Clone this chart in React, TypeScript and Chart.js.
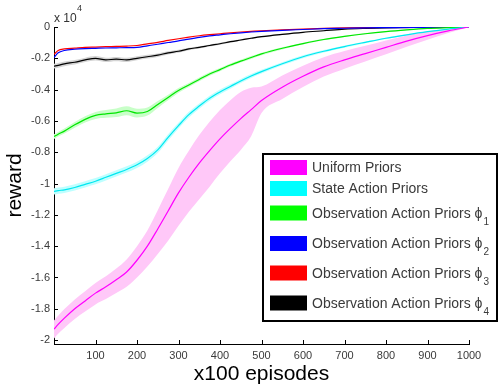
import React, { useEffect, useRef } from "react";
import { Chart, registerables } from "chart.js";

Chart.register(...registerables);

// ---------- data (reward in units of 1e4) ----------
const episodes = [0, 10, 25, 50, 75, 100, 125, 150, 175, 200, 225, 250, 275, 300, 325, 350, 375, 400, 425, 450, 475, 500, 550, 600, 650, 700, 750, 800, 850, 900, 950, 1000];

const uniformPriors = [-1.93, -1.9, -1.86, -1.8, -1.75, -1.7, -1.66, -1.615, -1.565, -1.49, -1.4, -1.29, -1.175, -1.06, -0.96, -0.87, -0.79, -0.715, -0.648, -0.585, -0.528, -0.47, -0.385, -0.315, -0.255, -0.21, -0.17, -0.13, -0.09, -0.055, -0.025, 0];
const uniformUp = [0.055, 0.055, 0.058, 0.06, 0.062, 0.065, 0.068, 0.072, 0.08, 0.09, 0.1, 0.12, 0.14, 0.16, 0.17, 0.18, 0.185, 0.185, 0.18, 0.17, 0.14, 0.09, 0.075, 0.068, 0.062, 0.056, 0.05, 0.044, 0.036, 0.026, 0.014, 0];
const uniformLow = [0.06, 0.06, 0.062, 0.065, 0.068, 0.072, 0.078, 0.085, 0.095, 0.11, 0.13, 0.16, 0.19, 0.21, 0.22, 0.23, 0.23, 0.22, 0.21, 0.2, 0.17, 0.08, 0.075, 0.068, 0.062, 0.056, 0.05, 0.044, 0.036, 0.026, 0.014, 0];

const stateActionPriors = [-1.05, -1.045, -1.04, -1.025, -1.005, -0.985, -0.96, -0.935, -0.91, -0.88, -0.84, -0.785, -0.705, -0.63, -0.56, -0.505, -0.455, -0.415, -0.38, -0.345, -0.313, -0.285, -0.235, -0.19, -0.155, -0.125, -0.098, -0.072, -0.05, -0.03, -0.013, 0];
const stateBand = [0.02, 0.02, 0.02, 0.02, 0.02, 0.02, 0.02, 0.02, 0.02, 0.02, 0.02, 0.02, 0.02, 0.018, 0.018, 0.017, 0.016, 0.015, 0.014, 0.013, 0.012, 0.012, 0.01, 0.009, 0.008, 0.007, 0.006, 0.005, 0.004, 0.003, 0.002, 0];

const obsPhi1 = [-0.7, -0.685, -0.665, -0.625, -0.59, -0.565, -0.555, -0.548, -0.535, -0.55, -0.54, -0.495, -0.45, -0.405, -0.37, -0.335, -0.3, -0.272, -0.243, -0.218, -0.195, -0.172, -0.136, -0.106, -0.08, -0.06, -0.043, -0.029, -0.018, -0.009, -0.004, 0];
const phi1Band = [0.015, 0.015, 0.016, 0.018, 0.02, 0.022, 0.025, 0.027, 0.028, 0.028, 0.026, 0.022, 0.018, 0.015, 0.013, 0.012, 0.011, 0.01, 0.01, 0.009, 0.009, 0.008, 0.007, 0.006, 0.005, 0.004, 0.004, 0.003, 0.002, 0.002, 0.001, 0];

const obsPhi2 = [-0.195, -0.165, -0.15, -0.142, -0.138, -0.136, -0.134, -0.133, -0.132, -0.13, -0.12, -0.11, -0.099, -0.089, -0.077, -0.066, -0.057, -0.05, -0.043, -0.037, -0.032, -0.028, -0.021, -0.016, -0.011, -0.008, -0.005, -0.004, -0.003, -0.002, -0.001, 0];

const obsPhi3 = [-0.175, -0.15, -0.14, -0.135, -0.13, -0.128, -0.126, -0.124, -0.122, -0.118, -0.108, -0.098, -0.086, -0.075, -0.065, -0.056, -0.049, -0.043, -0.037, -0.032, -0.028, -0.024, -0.018, -0.013, -0.009, -0.006, -0.004, -0.003, -0.002, -0.001, 0, 0];

const obsPhi4 = [-0.25, -0.245, -0.235, -0.225, -0.21, -0.2, -0.21, -0.205, -0.21, -0.2, -0.19, -0.18, -0.165, -0.155, -0.14, -0.13, -0.118, -0.107, -0.094, -0.083, -0.072, -0.062, -0.047, -0.034, -0.024, -0.014, -0.009, -0.006, -0.004, -0.002, -0.001, 0];
const phi4Band = [0.015, 0.015, 0.015, 0.014, 0.014, 0.014, 0.014, 0.014, 0.014, 0.013, 0.012, 0.011, 0.01, 0.009, 0.008, 0.007, 0.007, 0.006, 0.006, 0.005, 0.005, 0.005, 0.004, 0.003, 0.003, 0.002, 0.002, 0.001, 0.001, 0.001, 0, 0];

const yTicks = [0, -0.2, -0.4, -0.6, -0.8, -1, -1.2, -1.4, -1.6, -1.8, -2];
const yTickLabels = ["0", "-0.2", "-0.4", "-0.6", "-0.8", "-1", "-1.2", "-1.4", "-1.6", "-1.8", "-2"];
const xTicks = [100, 200, 300, 400, 500, 600, 700, 800, 900, 1000];
const xTickLabels = ["100", "200", "300", "400", "500", "600", "700", "800", "900", "1000"];

const legendLabels = [
  "Uniform Priors",
  "State Action Priors",
  "Observation Action Priors \u03D5",
  "Observation Action Priors \u03D5",
  "Observation Action Priors \u03D5",
  "Observation Action Priors \u03D5",
];
const legendSubs = ["", "", "1", "2", "3", "4"];
const legendColors = ["#ff00ff", "#00ffff", "#00ff00", "#0000ff", "#ff0000", "#000000"];

const FONT = "'Liberation Sans', Arial, sans-serif";

const pts = (vals: number[]) => episodes.map((x, i) => ({ x, y: vals[i] }));
const shifted = (vals: number[], off: number[], sign: number) => episodes.map((x, i) => ({ x, y: vals[i] + sign * off[i] }));

function lineDs(label: string, vals: number[], color: string) {
  return {
    label,
    data: pts(vals),
    borderColor: color,
    borderWidth: 1.2,
    pointRadius: 0,
    fill: false,
    cubicInterpolationMode: "monotone" as const,
    order: 0,
  };
}

function bandPair(vals: number[], up: number[], low: number[], color: string) {
  return [
    {
      label: "_low",
      data: shifted(vals, low, -1),
      borderWidth: 0,
      borderColor: "rgba(0,0,0,0)",
      pointRadius: 0,
      fill: false,
      cubicInterpolationMode: "monotone" as const,
      order: 1,
    },
    {
      label: "_up",
      data: shifted(vals, up, 1),
      borderWidth: 0,
      borderColor: "rgba(0,0,0,0)",
      backgroundColor: color,
      pointRadius: 0,
      fill: "-1",
      cubicInterpolationMode: "monotone" as const,
      order: 1,
    },
  ];
}

const decorPlugin = {
  id: "decor",
  afterDraw(chart: any) {
    const { ctx, chartArea: ca, scales } = chart;
    ctx.save();
    // inward ticks
    ctx.strokeStyle = "#000";
    ctx.lineWidth = 1;
    ctx.beginPath();
    scales.y.ticks.forEach((t: any) => {
      const py = Math.round(scales.y.getPixelForValue(t.value)) + 0.5;
      ctx.moveTo(ca.left, py);
      ctx.lineTo(ca.left + 4, py);
    });
    scales.x.ticks.forEach((t: any) => {
      const px = Math.round(scales.x.getPixelForValue(t.value)) + 0.5;
      ctx.moveTo(px, ca.bottom);
      ctx.lineTo(px, ca.bottom - 4);
    });
    ctx.stroke();

    // exponent label
    ctx.fillStyle = "#333";
    ctx.textBaseline = "alphabetic";
    ctx.textAlign = "left";
    ctx.font = `12px ${FONT}`;
    ctx.fillText("x 10", ca.left, 22);
    ctx.font = `9px ${FONT}`;
    ctx.fillText("4", ca.left + 23, 11);

    // legend box
    const bx = 263, by = 154, bw = 234, bh = 167;
    ctx.fillStyle = "#fff";
    ctx.fillRect(bx, by, bw, bh);
    ctx.strokeStyle = "#000";
    ctx.lineWidth = 2;
    ctx.strokeRect(bx, by, bw, bh);
    const rowCenters = [167.5, 188.5, 213, 243.5, 273, 303];
    legendLabels.forEach((lab, i) => {
      const cy = rowCenters[i];
      ctx.fillStyle = legendColors[i];
      ctx.fillRect(270, cy - 7.5, 37, 15);
      ctx.fillStyle = "#3a3a3a";
      ctx.font = `14px ${FONT}`;
      ctx.textBaseline = "middle";
      ctx.fillText(lab, 312, cy + 1);
      if (legendSubs[i]) {
        const w = ctx.measureText(lab).width;
        ctx.font = `10px ${FONT}`;
        ctx.fillText(legendSubs[i], 312 + w + 1, cy + 9);
      }
    });
    ctx.restore();
  },
};

export default function App() {
  const ref = useRef<HTMLCanvasElement | null>(null);
  useEffect(() => {
    if (!ref.current) return;
    const datasets: any[] = [
      lineDs("Uniform Priors", uniformPriors, "#ff00ff"),
      lineDs("State Action Priors", stateActionPriors, "#00e8f0"),
      lineDs("Observation Action Priors phi1", obsPhi1, "#00e600"),
      lineDs("Observation Action Priors phi2", obsPhi2, "#0000ff"),
      lineDs("Observation Action Priors phi3", obsPhi3, "#ff0000"),
      lineDs("Observation Action Priors phi4", obsPhi4, "#000000"),
      ...bandPair(uniformPriors, uniformUp, uniformLow, "rgb(255,200,248)"),
      ...bandPair(stateActionPriors, stateBand, stateBand, "rgb(190,255,255)"),
      ...bandPair(obsPhi1, phi1Band, phi1Band, "rgb(200,255,200)"),
      ...bandPair(obsPhi4, phi4Band, phi4Band, "rgb(212,212,212)"),
    ];
    const chart = new Chart(ref.current, {
      type: "line",
      data: { datasets },
      options: {
        animation: false,
        responsive: false,
        maintainAspectRatio: false,
        layout: { padding: { left: 0, top: 27, right: 31, bottom: 0 } },
        plugins: { legend: { display: false }, tooltip: { enabled: false } },
        scales: {
          x: {
            type: "linear",
            min: 0,
            max: 1000,
            afterBuildTicks: (s: any) => {
              s.ticks = xTicks.map((v) => ({ value: v }));
            },
            afterFit: (s: any) => {
              s.height = 46;
            },
            grid: { display: false, drawTicks: false },
            border: { display: true, color: "#000", width: 1 },
            ticks: {
              autoSkip: false,
              maxRotation: 0,
              padding: 5,
              color: "#3a3a3a",
              font: { family: FONT, size: 11 },
              callback: (_v: any, i: number) => xTickLabels[i],
            },
            title: {
              display: true,
              text: "x100 episodes",
              color: "#000",
              font: { family: FONT, size: 21 },
              padding: { top: 0, bottom: 3 },
            },
          },
          y: {
            type: "linear",
            min: -2.025,
            max: 0,
            afterBuildTicks: (s: any) => {
              s.ticks = yTicks.map((v) => ({ value: v }));
            },
            afterFit: (s: any) => {
              s.width = 54;
            },
            grid: { display: false, drawTicks: false },
            border: { display: true, color: "#000", width: 1 },
            ticks: {
              padding: 4,
              color: "#3a3a3a",
              font: { family: FONT, size: 11 },
              callback: (_v: any, i: number) => yTickLabels[i],
            },
            title: {
              display: true,
              text: "reward",
              color: "#000",
              font: { family: FONT, size: 21 },
              padding: { top: 3, bottom: 0 },
            },
          },
        },
      },
      plugins: [decorPlugin],
    } as any);
    return () => chart.destroy();
  }, []);
  return (
    <div style={{ position: "absolute", left: 0, top: 0, width: 500, height: 390, background: "#fff" }}>
      <canvas ref={ref} width={500} height={390} style={{ width: 500, height: 390, display: "block" }} />
    </div>
  );
}
